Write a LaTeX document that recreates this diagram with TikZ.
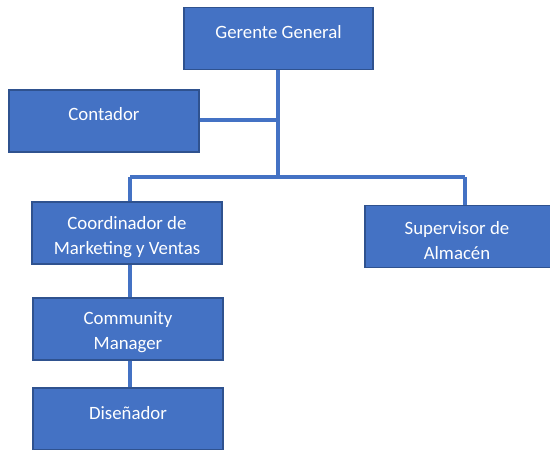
\documentclass[tikz,border=0pt]{standalone}
\usepackage{fontspec}
\setmainfont{Carlito}
\definecolor{orgfill}{HTML}{4472C4}
\definecolor{orgedge}{HTML}{2F528F}
\begin{document}
\begin{tikzpicture}[x=1pt,y=-1pt,
  box/.style={rectangle, fill=orgfill, draw=orgedge, line width=1.3pt,
    minimum width=#1, minimum height=62pt, inner sep=0pt},
  box/.default=190pt,
  txt/.style={text=white, font=\fontsize{18.8}{25}\selectfont, align=center, inner sep=0pt},
  link/.style={draw=orgfill, line width=4pt}]
\useasboundingbox (0,0) rectangle (550,450);

% boxes
\node[box=189pt] (gg) at (278.5,38.5) {};
\node[box] (ct) at (104,121) {};
\node[box] (cm) at (127,233) {};
\node[box] (sa) at (460,236.5) {};
\node[box] (cmg) at (128,329) {};
\node[box] (ds) at (128,419) {};

% labels
\node[txt] (ggt) at (278.5,32) {Gerente General};
\node[txt] (ctt) at (104,114) {Contador};
\node[txt] (cmt) at (127,237.5) {Coordinador de\\Marketing y Ventas};
\node[txt] (sat) at (457,240.5) {Supervisor de\\Almacén};
\node[txt] (cmgt) at (128,332.5) {Community\\Manager};
\node[txt] (dst) at (128,413) {Diseñador};

% connectors
\coordinate (hub) at (278,177);
\coordinate (mid) at (278,120);
\coordinate (lft) at (130,177);
\coordinate (rgt) at (465,177);
\draw[link] (gg.south -| hub) -- (hub);
\draw[link] (ct.east |- mid) -- (mid);
\draw[link] (lft) -- (rgt);
\draw[link] (lft) -- (cm.north -| lft);
\draw[link] (rgt) -- (sa.north -| rgt);
\draw[link] (cm.south -| lft) -- (cmg.north -| lft);
\draw[link] (cmg.south -| lft) -- (ds.north -| lft);
\end{tikzpicture}
\end{document}
